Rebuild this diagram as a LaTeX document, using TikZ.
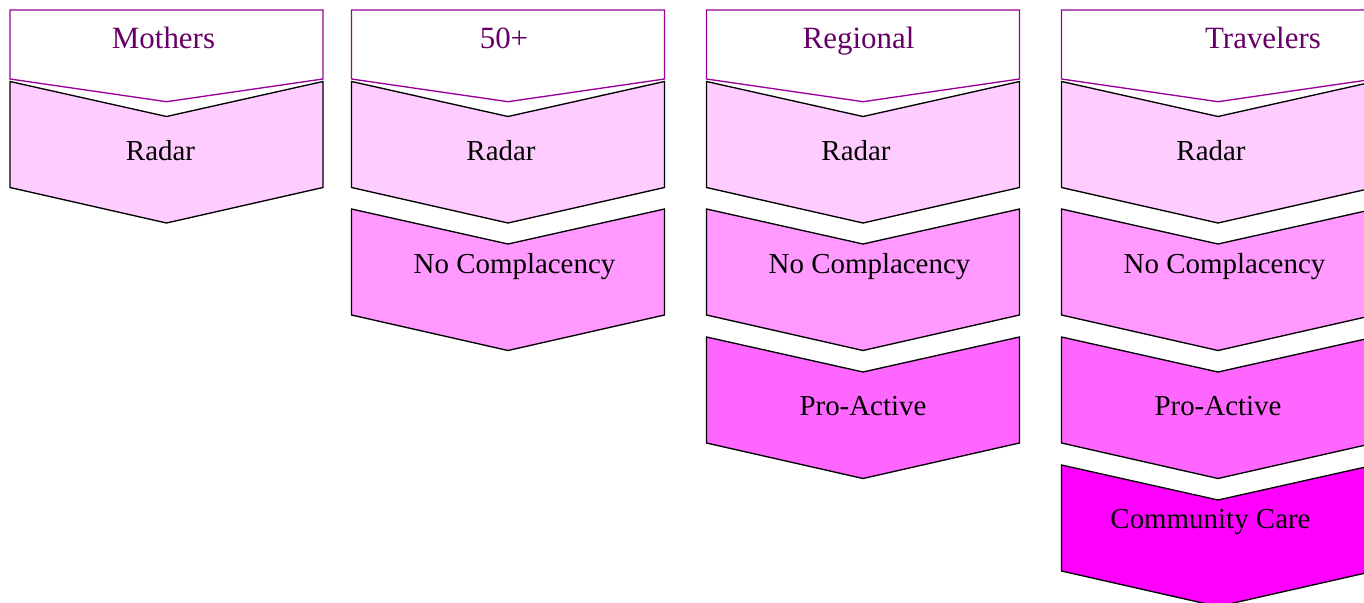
\documentclass[tikz,border=0pt]{standalone}
\usepackage{fontspec}
\setmainfont{Liberation Serif}
\definecolor{lvA}{HTML}{FFCCFF}
\definecolor{lvB}{HTML}{FF99FF}
\definecolor{lvC}{HTML}{FF66FF}
\definecolor{lvD}{HTML}{FF00FF}
\definecolor{hdrline}{HTML}{990099}
\definecolor{hdrtext}{HTML}{660066}
\tikzset{
  chev/.style={draw=black, line width=1pt, line join=miter},
  hdr/.style={draw=hdrline, fill=white, line width=1pt, line join=miter},
  bodytxt/.style={anchor=base, font=\fontsize{21.7}{26}\selectfont, text=black, inner sep=0pt},
  hdrtxt/.style={anchor=base, font=\fontsize{23.2}{28}\selectfont, text=hdrtext, inner sep=0pt}
}
\newcommand\mychev[3]{\filldraw[chev, fill=#3] (#1,#2) -- ++(156.5,35) -- ++(156.5,-35) -- ++(0,106) -- ++(-156.5,35.5) -- ++(-156.5,-35.5) -- cycle;}
\newcommand\myhdr[1]{\filldraw[hdr] (#1,10) -- ++(313,0) -- ++(0,69) -- ++(-156.5,22.7) -- ++(-156.5,-22.7) -- cycle;}
\begin{document}
\begin{tikzpicture}[x=0.75pt,y=-0.75pt]
\useasboundingbox (0,0) rectangle (1364,603);
% column 1
\myhdr{10}
\mychev{10}{81.5}{lvA}
% column 2
\myhdr{351.5}
\mychev{351.5}{81.5}{lvA}
\mychev{351.5}{209}{lvB}
% column 3
\myhdr{706.5}
\mychev{706.5}{81.5}{lvA}
\mychev{706.5}{209}{lvB}
\mychev{706.5}{337}{lvC}
% column 4
\myhdr{1061.5}
\mychev{1061.5}{81.5}{lvA}
\mychev{1061.5}{209}{lvB}
\mychev{1061.5}{337}{lvC}
\mychev{1061.5}{465}{lvD}
% texts
\node[hdrtxt] (h1) at (163.5,48) {Mothers};
\node[hdrtxt] (h2) at (504,48) {50+};
\node[hdrtxt] (h3) at (858.5,48) {Regional};
\node[hdrtxt] (h4) at (1263,48) {Travelers};
\node[bodytxt] (r1) at (160.5,160) {Radar};
\node[bodytxt] (r2) at (501,160) {Radar};
\node[bodytxt] (r3) at (856,160) {Radar};
\node[bodytxt] (r4) at (1211,160) {Radar};
\node[bodytxt] (n2) at (514.5,273) {No Complacency};
\node[bodytxt] (n3) at (869.5,273) {No Complacency};
\node[bodytxt] (n4) at (1224.5,273) {No Complacency};
\node[bodytxt] (p3) at (863,415) {Pro-Active};
\node[bodytxt] (p4) at (1218,415) {Pro-Active};
\node[bodytxt] (c4) at (1210.5,528.5) {Community Care};
\end{tikzpicture}
\end{document}
